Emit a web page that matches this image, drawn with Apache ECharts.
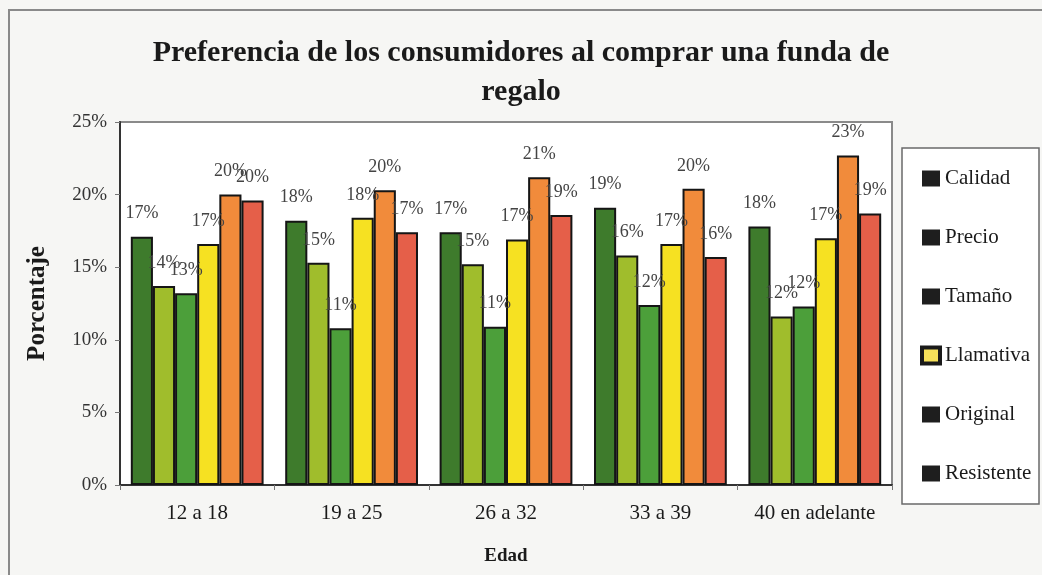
<!DOCTYPE html>
<html>
<head>
<meta charset="utf-8">
<script src="https://cdn.jsdelivr.net/npm/echarts@6/dist/echarts.min.js"></script>
<style>
    html, body { margin: 0; padding: 0; background: #f6f6f4; }
    #chart { width: 1042px; height: 575px; }
</style>
</head>
<body>
<div id="chart"></div>
<script>
// edades
const categories = ['12 a 18', '19 a 25', '26 a 32', '33 a 39', '40 en adelante'];
// porcentajes por atributo
const calidad = [17.1, 18.2, 17.4, 19.1, 17.8];
const precio = [13.7, 15.3, 15.2, 15.8, 11.6];
const tamano = [13.2, 10.8, 10.9, 12.4, 12.3];
const llamativa = [16.6, 18.4, 16.9, 16.6, 17.0];
const original = [20.0, 20.3, 21.2, 20.4, 22.7];
const resistente = [19.6, 17.4, 18.6, 15.7, 18.7];
const yTicks = [0, 5, 10, 15, 20, 25];

const font = 'Liberation Serif';
const colors = ['#3e7b2c', '#a0bd2c', '#4c9f3a', '#f6e122', '#f18b3b', '#e55f49'];
const names = ['Calidad', 'Precio', 'Tamaño', 'Llamativa', 'Original', 'Resistente'];
const values = [calidad, precio, tamano, llamativa, original, resistente];

const chart = echarts.init(document.getElementById('chart'));

let series = names.map(function (n, i) {
    return {
        name: n,
        type: 'bar',
        barGap: '0%',
        barCategoryGap: '14%',
        itemStyle: {
            color: colors[i],
            borderColor: '#151515',
            borderWidth: 2
        },
        label: {
            show: true,
            position: 'top',
            distance: 14,
            fontFamily: font,
            fontSize: 18,
            color: '#444',
            formatter: function (p) { return Math.round(p.value) + '%'; }
        },
        data: values[i]
    };
});

chart.setOption({
    backgroundColor: '#f6f6f4',
    animation: false,
    title: {
        text: 'Preferencia de los consumidores al comprar una funda de\nregalo',
        left: 'center',
        top: 29,
        textStyle: {
            fontFamily: font,
            fontSize: 30,
            fontWeight: 'bold',
            color: '#1a1a1a',
            lineHeight: 39
        }
    },
    legend: {
        orient: 'vertical',
        left: 915,
        top: 163,
        icon: 'rect',
        itemWidth: 18,
        itemHeight: 16,
        itemGap: 38,
        textStyle: {
            fontFamily: font,
            fontSize: 21,
            color: '#1a1a1a',
            lineHeight: 18
        },
        data: names.map(function (n) {
            if (n === 'Llamativa') {
                return { name: n, itemStyle: { color: '#f6e15a', borderColor: '#1a1a1a', borderWidth: 4 } };
            }
            return { name: n, itemStyle: { color: '#1e1e1e', borderWidth: 0 } };
        })
    },
    graphic: [
        {
            type: 'rect',
            z: -10,
            shape: { x: 9, y: 10, width: 1045, height: 600 },
            style: { fill: 'none', stroke: '#8a8a8a', lineWidth: 2 }
        },
        {
            type: 'rect',
            z: -10,
            shape: { x: 902, y: 148, width: 137, height: 356 },
            style: { fill: '#fff', stroke: '#6a6a6a', lineWidth: 1.5 }
        }
    ],
    grid: {
        left: 120,
        right: 150,
        top: 122,
        bottom: 90,
        show: true,
        backgroundColor: '#fff',
        borderColor: '#8a8a8a',
        borderWidth: 2
    },
    xAxis: {
        type: 'category',
        data: categories,
        name: 'Edad',
        nameLocation: 'middle',
        nameGap: 62,
        nameTextStyle: {
            fontFamily: font,
            fontSize: 19,
            fontWeight: 'bold',
            color: '#1a1a1a'
        },
        axisLine: { lineStyle: { color: '#333', width: 2 } },
        axisTick: { show: true, length: 5, lineStyle: { color: '#777' } },
        axisLabel: {
            interval: 0,
            margin: 18,
            fontFamily: font,
            fontSize: 21,
            color: '#1a1a1a'
        }
    },
    yAxis: {
        type: 'value',
        min: yTicks[0],
        max: yTicks[yTicks.length - 1],
        interval: 5,
        name: 'Porcentaje',
        nameLocation: 'middle',
        nameGap: 70,
        nameTextStyle: {
            fontFamily: font,
            fontSize: 25,
            fontWeight: 'bold',
            color: '#1a1a1a'
        },
        splitLine: { show: false },
        axisLine: { show: true, lineStyle: { color: '#333', width: 2 } },
        axisTick: { show: true, length: 5, lineStyle: { color: '#777' } },
        axisLabel: {
            margin: 13,
            fontFamily: font,
            fontSize: 19,
            color: '#333',
            formatter: '{value}%'
        }
    },
    series: series
});
</script>
</body>
</html>
